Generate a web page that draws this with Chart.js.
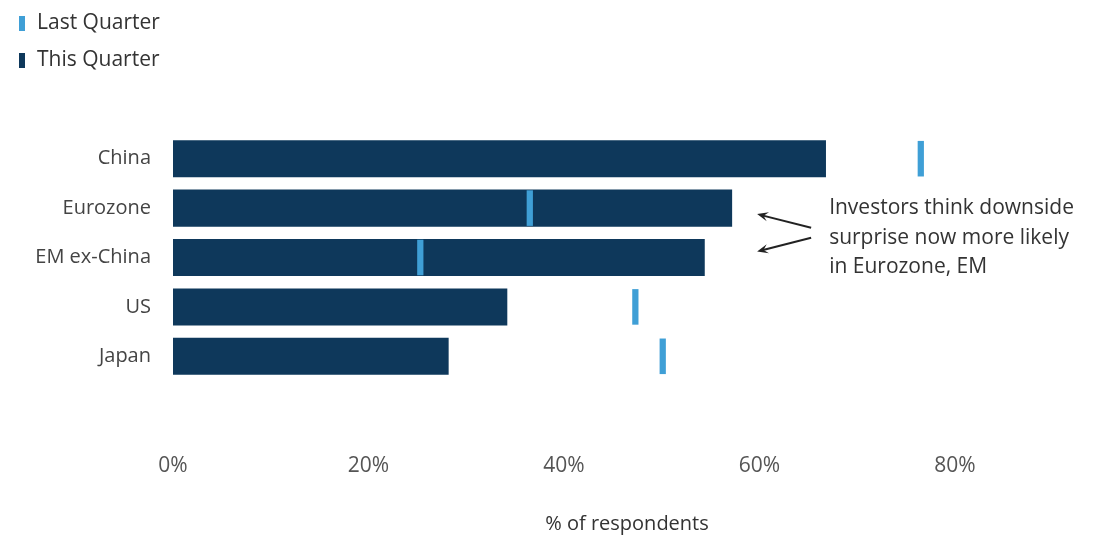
<!DOCTYPE html>
<html>
<head>
<meta charset="utf-8">
<title>Growth surprise by region</title>
<script src="https://cdn.jsdelivr.net/npm/chart.js@4.4.1/dist/chart.umd.min.js"></script>
<style>
  html, body { margin: 0; padding: 0; background: #fff; }
  #wrap { position: relative; width: 1102px; height: 540px; }
</style>
</head>
<body>
<div id="wrap"><canvas id="surpriseChart" width="1102" height="540"></canvas></div>
<script>
// Survey data: share of respondents per region
const regions = ["China", "Eurozone", "EM ex-China", "US", "Japan"];
const thisQuarter = [66.8, 57.2, 54.4, 34.2, 28.2];
const lastQuarter = [76.5, 36.5, 25.3, 47.3, 50.1];
const xTicks = [0, 20, 40, 60, 80];
const noteLines = ["Investors think downside", "surprise now more likely", "in Eurozone, EM"];

const NAVY = "#0e385b";
const LIGHT_BLUE = "#3f9fd6";
const TEXT = "#333";
const FONT = "'Open Sans', sans-serif";
const FONT_SIZE = 21;

// last quarter shown as a thin tick around the value
const TICK_HALF = 0.32;

// Legend stacked in the top-left corner
const stackedLegend = {
  id: "stackedLegend",
  afterDraw(chart) {
    const ctx = chart.ctx;
    ctx.save();
    ctx.font = FONT_SIZE + "px " + FONT;
    ctx.textBaseline = "middle";
    ctx.textAlign = "left";
    chart.data.datasets.forEach((ds, i) => {
      const y = 23 + i * 37;
      ctx.fillStyle = ds.backgroundColor;
      ctx.fillRect(19, y - 7, 6, 15);
      ctx.fillStyle = TEXT;
      ctx.fillText(ds.label, 37, y);
    });
    ctx.restore();
  },
};

// Note with two arrows pointing at Eurozone and EM ex-China
const noteArrows = {
  id: "noteArrows",
  afterDraw(chart) {
    const ctx = chart.ctx;
    const x = chart.scales.x;
    const y = chart.scales.y;
    const yEuro = y.getPixelForValue(1);
    const yEm = y.getPixelForValue(2);
    const mid = (yEuro + yEm) / 2;
    const tipX = x.getPixelForValue(Math.max(thisQuarter[1], thisQuarter[2])) + 25;
    const tailX = tipX + 54;

    ctx.save();
    ctx.strokeStyle = "#222";
    ctx.fillStyle = "#222";
    ctx.lineWidth = 2;
    [[mid - 5, yEuro + 6], [mid + 5, yEm - 6]].forEach(([ty, hy]) => {
      ctx.beginPath();
      ctx.moveTo(tailX, ty);
      ctx.lineTo(tipX + 4, hy + (ty - hy) * 4 / 54);
      ctx.stroke();
      const ang = Math.atan2(hy - ty, tipX - tailX);
      const len = 12;
      ctx.beginPath();
      ctx.moveTo(tipX, hy);
      ctx.lineTo(tipX - len * Math.cos(ang - 0.4), hy - len * Math.sin(ang - 0.4));
      ctx.lineTo(tipX - len * 0.55 * Math.cos(ang), hy - len * 0.55 * Math.sin(ang));
      ctx.lineTo(tipX - len * Math.cos(ang + 0.4), hy - len * Math.sin(ang + 0.4));
      ctx.closePath();
      ctx.fill();
    });

    ctx.font = FONT_SIZE + "px " + FONT;
    ctx.fillStyle = TEXT;
    ctx.textBaseline = "middle";
    ctx.textAlign = "left";
    noteLines.forEach((line, i) => {
      ctx.fillText(line, tailX + 18, mid + 5 + (i - 1) * 29.5);
    });

    // axis title sits a bit right of the plot centre
    ctx.font = "20px " + FONT;
    ctx.textAlign = "center";
    ctx.fillText("% of respondents", 627, 524);
    ctx.restore();
  },
};

const chart = new Chart(document.getElementById("surpriseChart"), {
  type: "bar",
  data: {
    labels: regions,
    datasets: [
      {
        label: "Last Quarter",
        data: lastQuarter.map((v) => [v - TICK_HALF, v + TICK_HALF]),
        backgroundColor: LIGHT_BLUE,
        barPercentage: 0.72,
        categoryPercentage: 1,
      },
      {
        label: "This Quarter",
        data: thisQuarter,
        backgroundColor: NAVY,
        barPercentage: 0.75,
        categoryPercentage: 1,
      },
    ],
  },
  plugins: [stackedLegend, noteArrows],
  options: {
    indexAxis: "y",
    responsive: false,
    animation: false,
    grouped: false,
    layout: { padding: { top: 134, right: 147, left: 0, bottom: 0 } },
    scales: {
      x: {
        min: 0,
        max: 80,
        grid: { display: false, drawTicks: false },
        border: { display: false },
        afterBuildTicks: (axis) => {
          axis.ticks = xTicks.map((v) => ({ value: v }));
        },
        afterFit: (axis) => {
          axis.height = 159;
        },
        ticks: {
          padding: 72,
          color: "#555",
          font: { family: FONT, size: FONT_SIZE },
          callback: (v) => v + "%",
        },
      },
      y: {
        grid: { display: false, drawTicks: false },
        border: { display: false },
        afterFit: (axis) => {
          axis.width = 173;
        },
        ticks: {
          padding: 22,
          color: "#444",
          font: { family: FONT, size: 20 },
        },
      },
    },
    plugins: {
      legend: { display: false },
      tooltip: { enabled: false },
    },
  },
});
</script>
</body>
</html>
